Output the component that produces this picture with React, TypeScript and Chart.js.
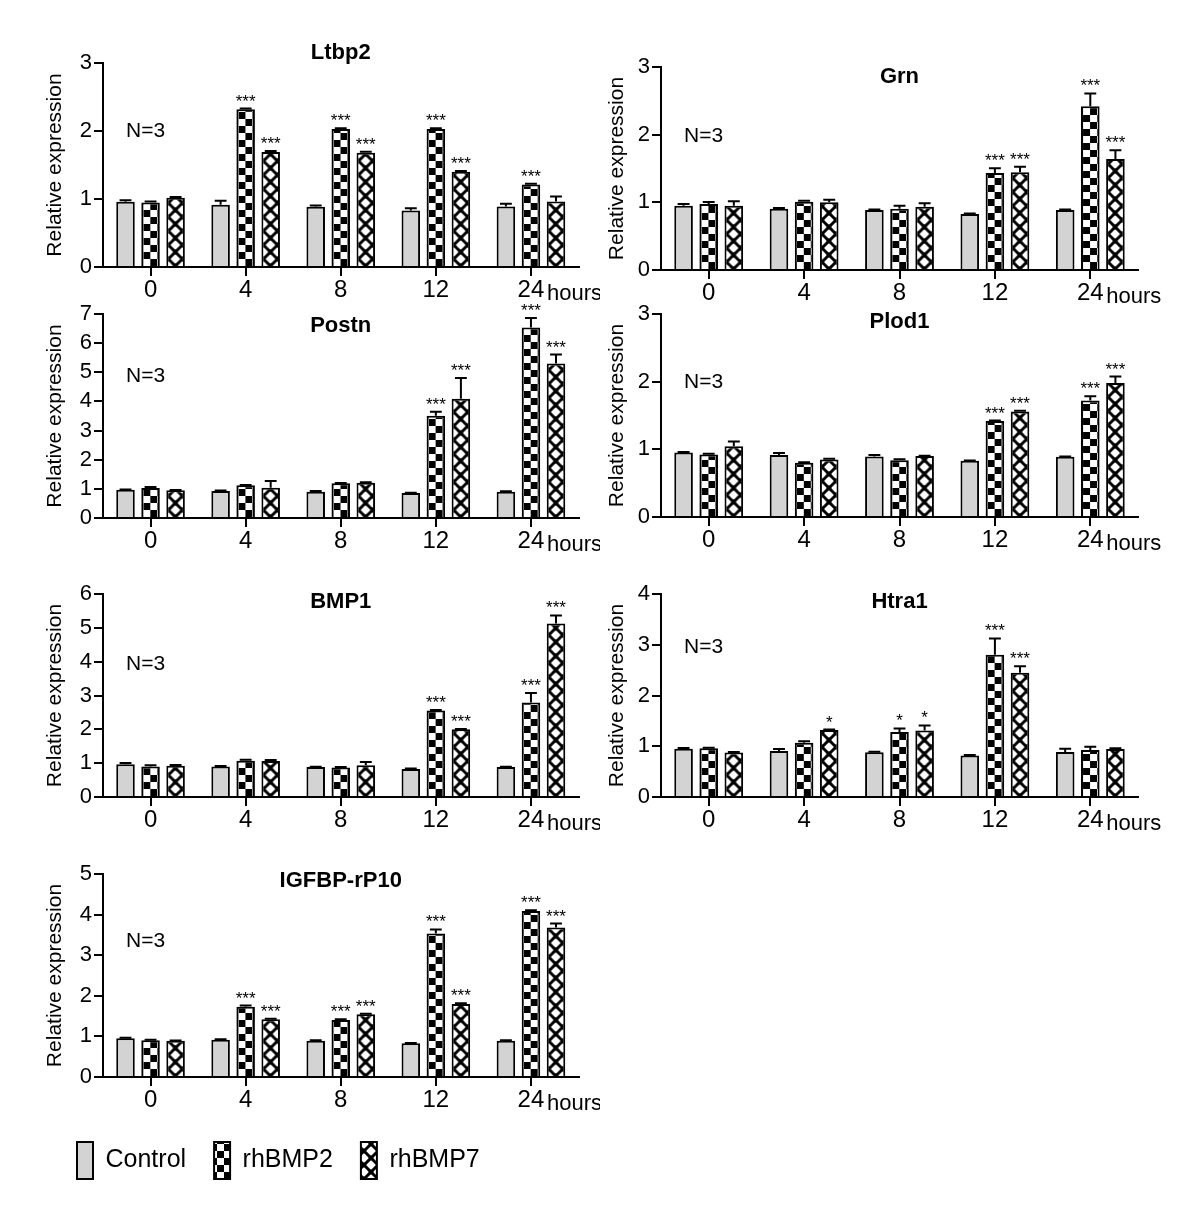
import React, { useEffect, useRef } from 'react';
import { Chart, registerables } from 'chart.js';
Chart.register(...registerables);

const FONT = '"Liberation Sans", Arial, Helvetica, sans-serif';

// ---------- data ----------
const hourLabels = ['0', '4', '8', '12', '24'];
const seriesNames = ['Control', 'rhBMP2', 'rhBMP7'];
const noSig = ['', '', '', '', ''];

// Ltbp2
const ltbp2Control = [0.96, 0.915, 0.885, 0.83, 0.89];
const ltbp2ControlErr = [0.02, 0.06, 0.02, 0.035, 0.04];
const ltbp2BMP2 = [0.95, 2.32, 2.03, 2.03, 1.215];
const ltbp2BMP2Err = [0.015, 0.01, 0.01, 0.01, 0.01];
const ltbp2BMP7 = [1.02, 1.69, 1.68, 1.4, 0.965];
const ltbp2BMP7Err = [0.01, 0.015, 0.015, 0.01, 0.07];
const ltbp2BMP2Sig = ['', '***', '***', '***', '***'];
const ltbp2BMP7Sig = ['', '***', '***', '***', ''];

// Grn
const grnControl = [0.95, 0.905, 0.885, 0.826, 0.885];
const grnControlErr = [0.025, 0.01, 0.01, 0.01, 0.01];
const grnBMP2 = [0.975, 1.01, 0.905, 1.435, 2.42];
const grnBMP2Err = [0.03, 0.015, 0.045, 0.07, 0.19];
const grnBMP7 = [0.95, 1.0, 0.935, 1.445, 1.64];
const grnBMP7Err = [0.065, 0.04, 0.05, 0.08, 0.13];
const grnBMP2Sig = ['', '', '', '***', '***'];
const grnBMP7Sig = ['', '', '', '***', '***'];

// Postn
const postnControl = [0.97, 0.93, 0.905, 0.86, 0.905];
const postnControlErr = [0.01, 0.01, 0.02, 0.01, 0.01];
const postnBMP2 = [1.03, 1.12, 1.19, 3.505, 6.54];
const postnBMP2Err = [0.035, 0.01, 0.01, 0.14, 0.32];
const postnBMP7 = [0.95, 1.04, 1.21, 4.09, 5.3];
const postnBMP7Err = [0.01, 0.23, 0.02, 0.71, 0.31];
const postnBMP2Sig = ['', '', '', '***', '***'];
const postnBMP7Sig = ['', '', '', '***', '***'];

// Plod1
const plod1Control = [0.955, 0.915, 0.895, 0.83, 0.89];
const plod1ControlErr = [0.005, 0.03, 0.02, 0.005, 0.005];
const plod1BMP2 = [0.925, 0.8, 0.84, 1.42, 1.72];
const plod1BMP2Err = [0.01, 0.01, 0.015, 0.005, 0.065];
const plod1BMP7 = [1.045, 0.85, 0.9, 1.56, 1.98];
const plod1BMP7Err = [0.07, 0.01, 0.005, 0.01, 0.095];
const plod1BMP2Sig = ['', '', '', '***', '***'];
const plod1BMP7Sig = ['', '', '', '***', '***'];

// BMP1
const bmp1Control = [0.965, 0.905, 0.885, 0.83, 0.885];
const bmp1ControlErr = [0.04, 0.01, 0.01, 0.01, 0.01];
const bmp1BMP2 = [0.9, 1.07, 0.875, 2.56, 2.79];
const bmp1BMP2Err = [0.04, 0.03, 0.01, 0.01, 0.285];
const bmp1BMP7 = [0.925, 1.065, 0.935, 2.0, 5.13];
const bmp1BMP7Err = [0.02, 0.03, 0.1, 0.01, 0.235];
const bmp1BMP2Sig = ['', '', '', '***', '***'];
const bmp1BMP7Sig = ['', '', '', '***', '***'];

// Htra1
const htra1Control = [0.95, 0.905, 0.88, 0.82, 0.887];
const htra1ControlErr = [0.015, 0.04, 0.01, 0.01, 0.065];
const htra1BMP2 = [0.96, 1.07, 1.28, 2.805, 0.926];
const htra1BMP2Err = [0.01, 0.03, 0.07, 0.32, 0.065];
const htra1BMP7 = [0.875, 1.32, 1.31, 2.45, 0.946];
const htra1BMP7Err = [0.01, 0.01, 0.1, 0.125, 0.015];
const htra1BMP2Sig = ['', '', '*', '***', ''];
const htra1BMP7Sig = ['', '*', '*', '***', ''];

// IGFBP-rP10
const igfbpControl = [0.955, 0.92, 0.895, 0.83, 0.895];
const igfbpControlErr = [0.01, 0.01, 0.01, 0.01, 0.01];
const igfbpBMP2 = [0.905, 1.73, 1.405, 3.535, 4.09];
const igfbpBMP2Err = [0.01, 0.03, 0.015, 0.1, 0.015];
const igfbpBMP7 = [0.89, 1.42, 1.545, 1.8, 3.68];
const igfbpBMP7Err = [0.01, 0.015, 0.015, 0.015, 0.1];
const igfbpBMP2Sig = ['', '***', '***', '***', '***'];
const igfbpBMP7Sig = ['', '***', '***', '***', '***'];

const yAxisMax = [3, 3, 7, 3, 6, 4, 5];

const panels = [
  { title: 'Ltbp2', yMax: yAxisMax[0], values: [ltbp2Control, ltbp2BMP2, ltbp2BMP7], errors: [ltbp2ControlErr, ltbp2BMP2Err, ltbp2BMP7Err], stars: [noSig, ltbp2BMP2Sig, ltbp2BMP7Sig] },
  { title: 'Grn', yMax: yAxisMax[1], values: [grnControl, grnBMP2, grnBMP7], errors: [grnControlErr, grnBMP2Err, grnBMP7Err], stars: [noSig, grnBMP2Sig, grnBMP7Sig] },
  { title: 'Postn', yMax: yAxisMax[2], values: [postnControl, postnBMP2, postnBMP7], errors: [postnControlErr, postnBMP2Err, postnBMP7Err], stars: [noSig, postnBMP2Sig, postnBMP7Sig] },
  { title: 'Plod1', yMax: yAxisMax[3], values: [plod1Control, plod1BMP2, plod1BMP7], errors: [plod1ControlErr, plod1BMP2Err, plod1BMP7Err], stars: [noSig, plod1BMP2Sig, plod1BMP7Sig] },
  { title: 'BMP1', yMax: yAxisMax[4], values: [bmp1Control, bmp1BMP2, bmp1BMP7], errors: [bmp1ControlErr, bmp1BMP2Err, bmp1BMP7Err], stars: [noSig, bmp1BMP2Sig, bmp1BMP7Sig] },
  { title: 'Htra1', yMax: yAxisMax[5], values: [htra1Control, htra1BMP2, htra1BMP7], errors: [htra1ControlErr, htra1BMP2Err, htra1BMP7Err], stars: [noSig, htra1BMP2Sig, htra1BMP7Sig] },
  { title: 'IGFBP-rP10', yMax: yAxisMax[6], values: [igfbpControl, igfbpBMP2, igfbpBMP7], errors: [igfbpControlErr, igfbpBMP2Err, igfbpBMP7Err], stars: [noSig, igfbpBMP2Sig, igfbpBMP7Sig] },
];

// ---------- layout (styles only) ----------
const layouts = [
  { left: 0, top: 0, w: 600, h: 305, padL: 40, padR: 21.5, padT: 63, padB: 0, yW: 63, xH: 38, yTitlePad: 2.4, titleDy: -4, nDy: 74, legend: false },
  { left: 558, top: 0, w: 642, h: 305, padL: 44, padR: 62, padT: 67, padB: 0, yW: 59, xH: 35, yTitlePad: 2.4, titleDy: 16, nDy: 75, legend: false },
  { left: 0, top: 290, w: 600, h: 270, padL: 40, padR: 21.5, padT: 24, padB: 0, yW: 63, xH: 42, yTitlePad: 2.4, titleDy: 18, nDy: 68, legend: false },
  { left: 558, top: 290, w: 642, h: 270, padL: 44, padR: 62, padT: 24, padB: 0, yW: 59, xH: 43, yTitlePad: 2.4, titleDy: 14, nDy: 74, legend: false },
  { left: 0, top: 570, w: 600, h: 280, padL: 40, padR: 21.5, padT: 24, padB: 0, yW: 63, xH: 53, yTitlePad: 2.4, titleDy: 14, nDy: 76, legend: false },
  { left: 558, top: 570, w: 642, h: 280, padL: 44, padR: 62, padT: 24, padB: 0, yW: 59, xH: 53, yTitlePad: 2.4, titleDy: 14, nDy: 59, legend: false },
  { left: 0, top: 850, w: 600, h: 374, padL: 49, padR: 21.5, padT: 24, padB: 35, yW: 54, xH: 37, yTitlePad: -6.6, titleDy: 13, nDy: 73, legend: true },
];

// ---------- patterns ----------
const TILE = 14;
function makeTile(kind: string): HTMLCanvasElement {
  const c = document.createElement('canvas');
  c.width = TILE;
  c.height = TILE;
  const g = c.getContext('2d')!;
  g.fillStyle = '#ffffff';
  g.fillRect(0, 0, TILE, TILE);
  g.fillStyle = '#000000';
  if (kind === 'checker') {
    g.fillRect(0, 0, TILE / 2, TILE / 2);
    g.fillRect(TILE / 2, TILE / 2, TILE / 2, TILE / 2);
  } else {
    g.strokeStyle = '#000000';
    g.lineWidth = 3;
    for (let k = -2; k <= 2; k++) {
      const c1 = 7 + 14 * k;
      g.beginPath();
      g.moveTo(-14, c1 + 14);
      g.lineTo(28, c1 - 28);
      g.stroke();
      g.beginPath();
      g.moveTo(-14, c1 - 14);
      g.lineTo(28, c1 + 28);
      g.stroke();
    }
    const pts = [[7, 0], [0, 7], [14, 7], [7, 14]];
    for (const [px, py] of pts) {
      g.beginPath();
      g.arc(px, py, 2.4, 0, Math.PI * 2);
      g.fill();
    }
  }
  return c;
}

const seriesStyle = [
  { fill: '#d3d3d3', tile: '' },
  { fill: '', tile: 'checker' },
  { fill: '', tile: 'lattice' },
];

function PanelChart({ spec, lay }: { spec: any; lay: any }) {
  const ref = useRef<HTMLCanvasElement>(null);
  useEffect(() => {
    const canvas = ref.current!;
    const tiles: Record<string, HTMLCanvasElement> = {
      checker: makeTile('checker'),
      lattice: makeTile('lattice'),
    };
    const tmpCtx = canvas.getContext('2d')!;
    const datasets = seriesNames.map((name, i) => ({
      label: name,
      data: spec.values[i],
      backgroundColor: seriesStyle[i].tile
        ? (tmpCtx.createPattern(tiles[seriesStyle[i].tile], 'repeat') as any)
        : seriesStyle[i].fill,
      borderColor: '#000000',
      borderWidth: 2,
      categoryPercentage: 0.79,
      barPercentage: 0.74,
    }));

    const overlay = {
      id: 'overlay',
      beforeDatasetsDraw(chart: any) {
        const ctx = chart.ctx;
        chart.data.datasets.forEach((ds: any, di: number) => {
          const tileName = seriesStyle[di].tile;
          if (!tileName) return;
          const meta = chart.getDatasetMeta(di);
          meta.data.forEach((el: any) => {
            const p = el.getProps(['x', 'width', 'base'], true);
            const pat = ctx.createPattern(tiles[tileName], 'repeat');
            pat.setTransform(new DOMMatrix().translateSelf(p.x - p.width / 2 + 2, p.base));
            el.options = Object.assign({}, el.options, { backgroundColor: pat });
          });
        });
      },
      afterDatasetsDraw(chart: any) {
        const ctx = chart.ctx;
        const yScale = chart.scales.y;
        ctx.save();
        chart.data.datasets.forEach((ds: any, di: number) => {
          const meta = chart.getDatasetMeta(di);
          meta.data.forEach((el: any, j: number) => {
            const v = spec.values[di][j];
            const e = spec.errors[di][j];
            const p = el.getProps(['x', 'y', 'width'], true);
            const yTop = yScale.getPixelForValue(v + e);
            if (e > 0) {
              ctx.strokeStyle = '#000';
              ctx.lineWidth = 2;
              ctx.beginPath();
              ctx.moveTo(p.x, p.y);
              ctx.lineTo(p.x, yTop);
              ctx.moveTo(p.x - p.width * 0.32, yTop);
              ctx.lineTo(p.x + p.width * 0.32, yTop);
              ctx.stroke();
            }
            const s = spec.stars[di][j];
            if (s) {
              ctx.fillStyle = '#000';
              ctx.font = `17px ${FONT}`;
              ctx.textAlign = 'center';
              ctx.textBaseline = 'alphabetic';
              ctx.fillText(s, p.x, yTop - 2);
            }
          });
        });
        ctx.restore();
      },
      afterDraw(chart: any) {
        const ctx = chart.ctx;
        const a = chart.chartArea;
        const xScale = chart.scales.x;
        ctx.save();
        ctx.fillStyle = '#000';
        ctx.textBaseline = 'alphabetic';
        ctx.font = `bold 22px ${FONT}`;
        ctx.textAlign = 'center';
        ctx.fillText(spec.title, (a.left + a.right) / 2, a.top + lay.titleDy);
        ctx.font = `21px ${FONT}`;
        ctx.textAlign = 'left';
        ctx.fillText('N=3', a.left + 23, a.top + lay.nDy);
        ctx.font = `22px ${FONT}`;
        ctx.fillText('hours', xScale.getPixelForValue(hourLabels.length - 1) + 16, a.bottom + 33);
        ctx.restore();
      },
    };

    const chart = new Chart(canvas, {
      type: 'bar',
      data: { labels: hourLabels, datasets },
      options: {
        responsive: false,
        animation: false,
        devicePixelRatio: 1,
        layout: { padding: { left: lay.padL, right: lay.padR, top: lay.padT, bottom: lay.padB } },
        plugins: {
          legend: {
            display: lay.legend,
            position: 'bottom',
            align: 'start',
            labels: {
              boxWidth: 16,
              boxHeight: 37,
              padding: 28,
              color: '#000',
              font: { size: 25, family: FONT },
            },
          },
          tooltip: { enabled: false },
          title: { display: false },
        },
        scales: {
          x: {
            z: 1,
            offset: true,
            afterFit: (s: any) => { s.height = lay.xH; },
            grid: { offset: false, drawOnChartArea: false, drawTicks: true, tickLength: 9, color: '#000', lineWidth: 2 },
            border: { display: true, color: '#000', width: 2 },
            ticks: { color: '#000', padding: 0, autoSkip: false, font: { size: 24, family: FONT }, maxRotation: 0 },
          },
          y: {
            min: 0,
            max: spec.yMax,
            afterFit: (s: any) => { s.width = lay.yW; },
            grid: { drawOnChartArea: false, drawTicks: true, tickLength: 9, color: '#000', lineWidth: 2 },
            border: { display: true, color: '#000', width: 2 },
            ticks: { stepSize: 1, autoSkip: false, color: '#000', padding: 2, font: { size: 22, family: FONT } },
            title: {
              display: true,
              text: 'Relative expression',
              color: '#000',
              font: { size: 21, family: FONT },
              padding: { top: lay.yTitlePad, bottom: 0 },
            },
          },
        },
      } as any,
      plugins: [overlay],
    });
    return () => chart.destroy();
  }, []);
  return (
    <canvas
      ref={ref}
      width={lay.w}
      height={lay.h}
      style={{ position: 'absolute', left: lay.left, top: lay.top, width: lay.w, height: lay.h }}
    />
  );
}

export default function App() {
  return (
    <div style={{ position: 'absolute', left: 0, top: 0, width: 1200, height: 1224, background: '#fff' }}>
      {panels.map((p, i) => (
        <PanelChart key={p.title} spec={p} lay={layouts[i]} />
      ))}
    </div>
  );
}
